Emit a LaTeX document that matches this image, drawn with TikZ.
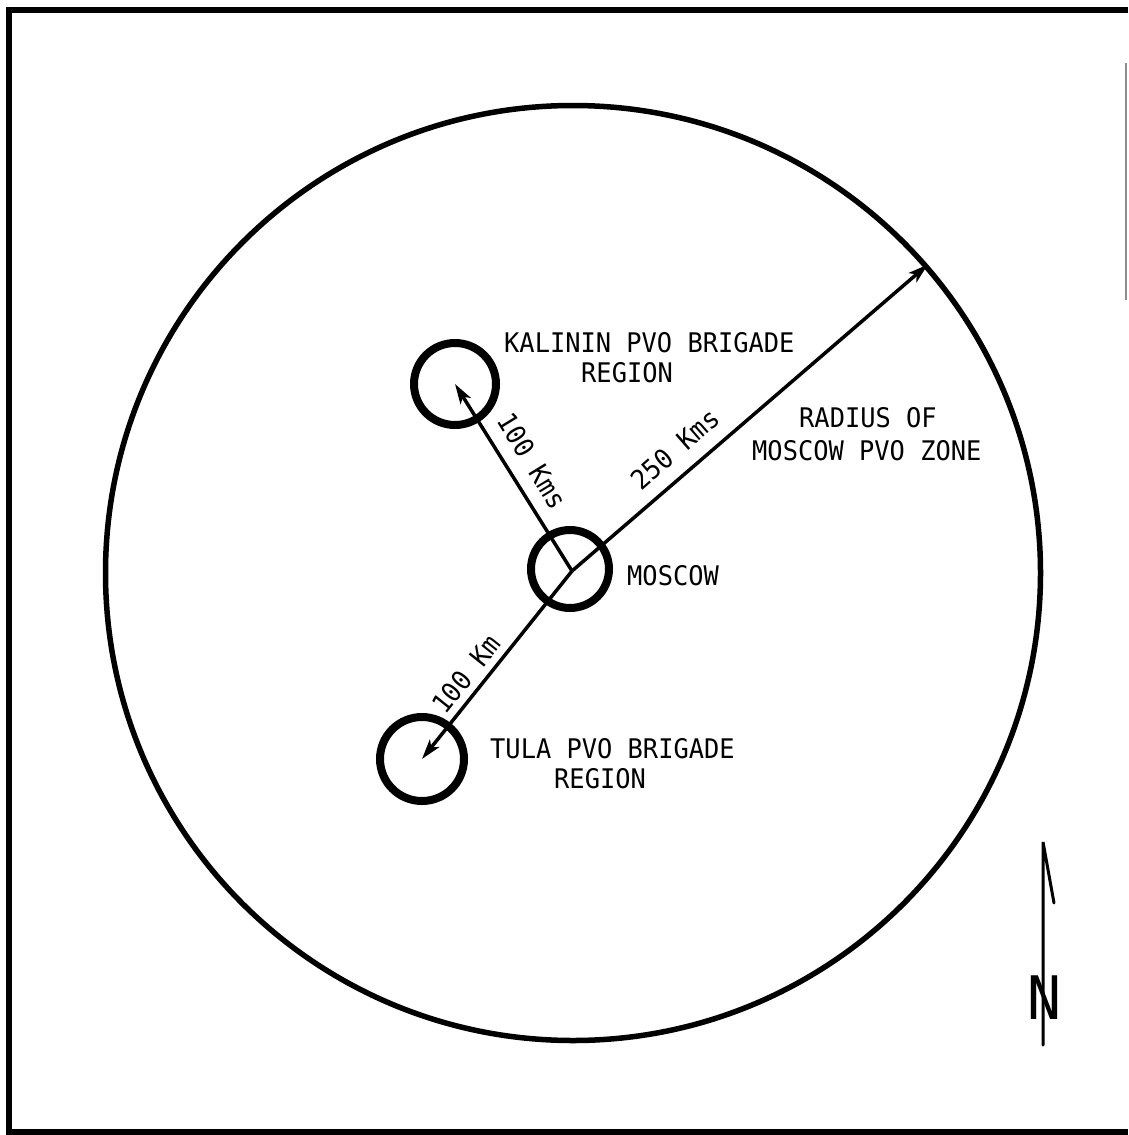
\documentclass[tikz,border=0pt]{standalone}
\usepackage{fontspec}
\newfontfamily\twfont[FakeStretch=0.94]{DejaVu Sans Mono}
\usetikzlibrary{arrows.meta}
\begin{document}
\begin{tikzpicture}[x=1pt,y=-1pt,
  ring/.style={circle,draw,inner sep=0pt,line width=8pt},
  zoneline/.style={circle,draw,inner sep=0pt,line width=5.5pt},
  arr/.style={line width=3.5pt,-{Stealth[length=20pt,width=12pt,inset=5pt]}},
  lbl/.style={inner sep=0pt,anchor=base west,font=\twfont\fontsize{27}{30}\selectfont},
  rlbl/.style={inner sep=0pt,font=\twfont\fontsize{27}{30}\selectfont},
  frame/.style={line width=6.5pt}]
\useasboundingbox (0,0) rectangle (1128,1135);
% frame
\coordinate (f1) at (1128,10);
\coordinate (f2) at (9,10);
\coordinate (f3) at (9,1132);
\coordinate (f4) at (1128,1132);
\draw[frame,line join=miter] (f1) -- (f2) -- (f3) -- (f4);
\coordinate (g1) at (1126,63);
\coordinate (g2) at (1126,300);
\draw[line width=1.8pt,black!45] (g1) -- (g2);
% circles
\node[zoneline,minimum size=935pt] (zone) at (573,573) {};
\node[ring,minimum size=78pt] (moscow) at (570,569) {};
\node[ring,minimum size=82pt] (kalinin) at (455,384) {};
\node[ring,minimum size=84pt] (tula) at (422,759) {};
\coordinate (c) at (572,571);
% connectors
\draw[arr] (c) -- (kalinin.center);
\draw[arr] (c) -- (tula.center);
\draw[arr] (c) -- (zone.41.3);
% labels
\node[lbl] (k1) at (504,352) {KALININ PVO BRIGADE};
\node[lbl] (k2) at (581,382) {REGION};
\node[lbl] (t1) at (490,758) {TULA PVO BRIGADE};
\node[lbl] (t2) at (554,788) {REGION};
\node[lbl] (m1) at (627,585) {MOSCOW};
\node[lbl] (r1) at (799,427) {RADIUS OF};
\node[lbl] (r2) at (752,460) {MOSCOW PVO ZONE};
\node[rlbl,rotate=-58.6] (d1) at (532,461) {100 Kms};
\node[rlbl,rotate=41.2] (d2) at (675,449) {250 Kms};
\node[rlbl,rotate=51.5] (d3) at (466,674) {100 Km};
% north arrow
\coordinate (ntop) at (1043,842);
\coordinate (nbot) at (1043,1045);
\coordinate (nbarb) at (1054,903);
\draw[line width=3pt,line cap=round] (nbot) -- (ntop) -- (nbarb);
\node[inner sep=0pt,font=\twfont\fontsize{60}{60}\selectfont] (north) at (1044,998) {N};
\end{tikzpicture}
\end{document}
